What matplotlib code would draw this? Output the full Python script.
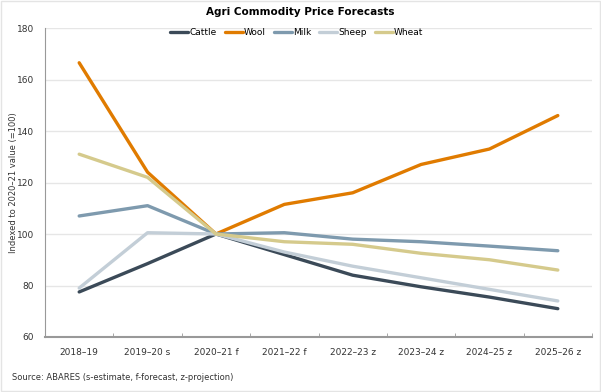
import matplotlib.pyplot as plt
import numpy as np

years = ["2018\u201319", "2019\u201320 s", "2020\u201321 f", "2021\u201322 f",
         "2022\u201323 z", "2023\u201324 z", "2024\u201325 z", "2025\u201326 z"]
cattle = [77.5, 88.5, 100, 92, 84, 79.5, 75.5, 71]
wool = [166.5, 124, 100, 111.5, 116, 127, 133, 146]
milk = [107, 111, 100, 100.5, 98, 97, 95.3, 93.5]
sheep = [79, 100.5, 100, 93, 87.5, 83, 78.5, 74]
wheat = [131, 122, 100, 97, 96, 92.5, 90, 86]

series = [("Cattle", cattle, "#3b4a58"),
          ("Wool", wool, "#e07b00"),
          ("Milk", milk, "#7e9aae"),
          ("Sheep", sheep, "#c3ced7"),
          ("Wheat", wheat, "#d5ca8c")]

fig = plt.figure(figsize=(6.01, 3.92), dpi=100)
ax = fig.add_axes([45 / 601, 55 / 392, 547 / 601, 309 / 392])

x = np.arange(len(years))
for name, vals, col in series:
    ax.plot(x, vals, color=col, lw=2.4, label=name, solid_capstyle="round")

ax.set_xlim(-0.5, len(years) - 0.5)
ax.set_ylim(60, 180)
ax.set_yticks(range(60, 181, 20))
ax.set_xticks(x)
ax.set_xticklabels(years, fontsize=6.5, color="#333333")
ax.set_xticks(np.arange(-0.5, len(years)), minor=True)
ax.tick_params(axis="x", which="major", length=0, pad=8)
ax.tick_params(axis="x", which="minor", length=3, color="#999999", direction="in")
ax.tick_params(axis="y", length=0, labelsize=6.5, labelcolor="#333333", pad=8)
ax.grid(axis="y", color="#e6e6e6", lw=1)
ax.set_axisbelow(True)
for s in ["top", "right"]:
    ax.spines[s].set_visible(False)
ax.spines["left"].set_color("#999999")
ax.spines["bottom"].set_color("#999999")
ax.spines["bottom"].set_linewidth(1.5)

ax.set_ylabel("Indexed to 2020\u201321 value (=100)", fontsize=6, color="#333333")
ax.yaxis.set_label_coords(-27 / 547, 0.5)
fig.text(0.5, 1 - 12 / 392, "Agri Commodity Price Forecasts", ha="center", va="center",
         fontsize=7.5, fontweight="bold")
fig.text(12 / 601, 1 - 377 / 392, "Source: ABARES (s-estimate, f-forecast, z-projection)",
         ha="left", va="center", fontsize=6, color="#333333")

ax.legend(loc="upper center", bbox_to_anchor=(0.46, 1.025), ncol=5, frameon=False,
          fontsize=6.5, handlelength=2.0, handletextpad=0.1, columnspacing=0.9)

fig.patches.append(plt.Rectangle((0.002, 0.002), 0.996, 0.996, transform=fig.transFigure,
                                 fill=False, edgecolor="#e4e4e4", lw=1))

fig.savefig("out.png", dpi=100)
